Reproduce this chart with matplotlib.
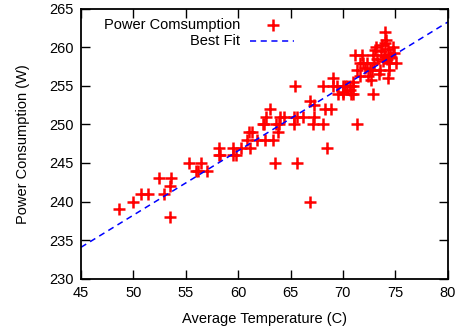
import numpy as np
import matplotlib
matplotlib.use('Agg')
import matplotlib.pyplot as plt

# Measured points: average temperature (C) and power (W)
temp = [48.6, 50.0, 50.7, 51.4, 52.4, 52.9, 53.6, 53.5, 53.5, 55.3,
        56.5, 56.0, 56.2, 57.0, 58.2, 58.2, 58.3, 59.5, 59.5, 59.8,
        60.3, 61.1, 60.8, 61.0, 61.3, 61.8, 62.6, 63.3, 62.4, 62.7,
        63.0, 63.5, 63.8, 63.9, 64.0, 64.4, 65.3, 65.6, 66.2, 65.6,
        66.9, 66.9, 67.2, 67.1, 68.1, 68.3, 68.9, 68.5, 65.4, 67.2,
        62.5, 63.6, 65.3, 69.1, 68.1, 69.1, 69.4, 69.5, 70.0, 70.0,
        70.7, 71.0, 70.8, 71.3, 71.3, 70.4, 74.0, 74.1, 74.0, 73.2,
        74.8, 71.2, 71.8, 72.9, 73.1, 73.9, 74.5, 73.6, 74.2, 74.6,
        73.8, 75.1, 72.3, 73.0, 71.9, 71.6, 72.1, 72.6, 73.5, 74.4,
        71.6, 72.4, 74.3, 71.0, 70.2, 70.7, 70.0, 71.0, 72.9, 72.8,
        73.3, 74.0, 74.3, 73.7, 74.9, 74.4, 73.4, 72.7]
power = [239, 240, 241, 241, 243, 241, 243, 242, 238, 245,
         245, 244, 244, 244, 247, 246, 246, 247, 246, 246,
         247, 247, 248, 249, 249, 248, 248, 248, 250, 251,
         252, 245, 249, 250, 251, 251, 250, 251, 251, 245,
         240, 253, 251, 250, 250, 252, 252, 247, 255, 252.5,
         250, 250, 251, 256, 255, 255, 255, 254, 254, 255,
         255, 255, 254, 257, 250, 255, 262, 261, 260.5, 260,
         260, 259, 259, 259, 259.7, 259, 259, 259.5, 258.5, 258.8,
         258.2, 258, 258, 258, 258, 258, 257.3, 257, 257, 257,
         256.3, 256.3, 256, 255.5, 255, 254.5, 254.2, 254, 254, 257,
         258.5, 258.8, 259.8, 260.3, 259.2, 258, 256.5, 255.8]

# Best fit line
fit_slope = 0.834
fit_intercept = 196.54

plt.rcParams['font.family'] = ['Liberation Sans', 'DejaVu Sans']
fs = 10.5

fig = plt.figure(figsize=(4.66, 3.29), dpi=100)
ax = fig.add_axes([0.1738, 0.1529, 0.7869, 0.8207])

ax.plot(temp, power, linestyle='none', marker='+', color='#ff0000',
        markersize=8, markeredgewidth=1.8)

fit_x = np.array([45, 80])
ax.plot(fit_x, fit_slope * fit_x + fit_intercept, color='#0000ff',
        linewidth=1.1, dashes=(4, 3))

ax.set_xlim(45, 80)
ax.set_ylim(230, 265)
ax.set_xticks(range(45, 81, 5))
ax.set_yticks(range(230, 266, 5))
ax.tick_params(direction='in', length=6.5, width=1.0, labelsize=fs,
               top=True, right=True, pad=5)
for s in ax.spines.values():
    s.set_linewidth(1.3)

ax.set_xlabel('Average Temperature (C)', fontsize=fs, labelpad=9)
ax.set_ylabel('Power Consumption (W)', fontsize=fs, labelpad=14)

# gnuplot style key: right aligned text followed by the sample
ax.text(0.4336, 0.9396, 'Power Comsumption', transform=ax.transAxes,
        ha='right', va='center', fontsize=fs)
ax.text(0.4336, 0.8815, 'Best Fit', transform=ax.transAxes,
        ha='right', va='center', fontsize=fs)
ax.plot([0.5228], [0.9396], transform=ax.transAxes, marker='+',
        color='#ff0000', markersize=8, markeredgewidth=1.8, clip_on=False)
ax.plot([0.4609, 0.5809], [0.8815, 0.8815], transform=ax.transAxes,
        color='#0000ff', linewidth=1.1, dashes=(4, 3))

fig.savefig('out.png', dpi=100)
